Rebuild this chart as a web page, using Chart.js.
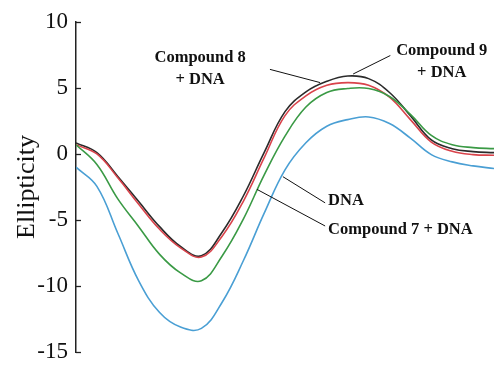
<!DOCTYPE html>
<html>
<head>
<meta charset="utf-8">
<script src="https://cdn.jsdelivr.net/npm/chart.js@4"></script>
<style>
  html, body { margin: 0; padding: 0; background: #fff; }
  #wrap { width: 494px; height: 374px; position: relative; }
</style>
</head>
<body>
<div id="wrap"><canvas id="cdChart"></canvas></div>
<script>
// wavelength (nm) - x axis is not shown in the figure
const wavelengths = [220, 225, 230, 235, 240, 245, 250, 255, 260, 265, 270,
                     275, 280, 285, 290, 295, 300, 305, 310, 315, 320];

// ellipticity values
const dnaValues   = [-1.0, -2.45, -6.0, -9.6, -12.0, -13.1, -13.2, -11.2, -8.1, -4.5, -1.2,
                     0.85, 2.1, 2.6, 2.8, 2.3, 1.2, -0.05, -0.6, -0.9, -1.1];
const cpd7Values  = [0.7, -0.8, -3.4, -5.5, -7.6, -9.0, -9.6, -7.7, -4.95, -1.6, 1.35,
                     3.55, 4.65, 4.95, 4.95, 4.35, 3.0, 1.4, 0.7, 0.48, 0.4];
const cpd8Values  = [0.7, 0.0, -1.8, -3.8, -5.7, -7.1, -7.8, -6.2, -3.6, -0.3, 2.9,
                     4.4, 5.2, 5.4, 5.2, 4.3, 2.6, 0.9, 0.2, -0.05, -0.1];
const cpd9Values  = [0.84, 0.1, -1.7, -3.6, -5.5, -7.0, -7.7, -5.9, -3.2, 0.1, 3.2,
                     4.7, 5.5, 5.9, 5.7, 4.65, 2.9, 1.06, 0.4, 0.18, 0.1];

// y tick values
const yTicks = [10, 5, 0, -5, -10, -15];

// series colours
const seriesColors = {
    dna: '#4a9fd4',
    cpd7: '#3a9a45',
    cpd8: '#d9434b',
    cpd9: '#2b2b2b'
};

// labels with leader lines (positions in data units)
const callouts = [
    { lines: ['Compound 8', '+ DNA'], align: 'center', at: [249.7, 7.25], from: [266.4, 6.4], to: [278.4, 5.4] },
    { lines: ['Compound 9', '+ DNA'], align: 'center', at: [307.5, 7.8], from: [295.2, 7.45], to: [286.3, 6.05] },
    { lines: ['DNA'], align: 'left', at: [280.3, -3.55], from: [279.6, -3.7], to: [269.5, -1.72] },
    { lines: ['Compound 7 + DNA'], align: 'left', at: [280.3, -5.75], from: [279.6, -5.45], to: [263.3, -2.68] }
];

const serif = '"Liberation Serif", "Times New Roman", serif';

function toPoints(values) {
    return values.map((v, i) => ({ x: wavelengths[i], y: v }));
}

// ticks point inward from the axis line
const inwardTicks = {
    id: 'inwardTicks',
    afterDraw(chart) {
        const y = chart.scales.y;
        const ctx = chart.ctx;
        ctx.save();
        ctx.strokeStyle = '#222';
        ctx.lineWidth = 1.3;
        yTicks.forEach(t => {
            const py = Math.round(y.getPixelForValue(t)) + 0.5;
            ctx.beginPath();
            ctx.moveTo(y.right, py);
            ctx.lineTo(y.right + 5, py);
            ctx.stroke();
        });
        ctx.restore();
    }
};

// series labels
const calloutLabels = {
    id: 'calloutLabels',
    afterDatasetsDraw(chart) {
        const { x, y } = chart.scales;
        const ctx = chart.ctx;
        ctx.save();
        ctx.strokeStyle = '#111';
        ctx.lineWidth = 1;
        ctx.fillStyle = '#111';
        ctx.font = 'bold 16.5px ' + serif;
        ctx.textBaseline = 'middle';
        callouts.forEach(c => {
            ctx.beginPath();
            ctx.moveTo(x.getPixelForValue(c.from[0]), y.getPixelForValue(c.from[1]));
            ctx.lineTo(x.getPixelForValue(c.to[0]), y.getPixelForValue(c.to[1]));
            ctx.stroke();
            ctx.textAlign = c.align;
            const px = x.getPixelForValue(c.at[0]);
            const py = y.getPixelForValue(c.at[1]);
            c.lines.forEach((line, i) => ctx.fillText(line, px, py + i * 21.5));
        });
        ctx.restore();
    }
};

const lineStyle = { borderWidth: 1.6, pointRadius: 0, tension: 0.4, fill: false };

new Chart(document.getElementById('cdChart'), {
    type: 'line',
    data: {
        datasets: [
            { label: 'DNA', data: toPoints(dnaValues), borderColor: seriesColors.dna, ...lineStyle },
            { label: 'Compound 7 + DNA', data: toPoints(cpd7Values), borderColor: seriesColors.cpd7, ...lineStyle },
            { label: 'Compound 8 + DNA', data: toPoints(cpd8Values), borderColor: seriesColors.cpd8, ...lineStyle },
            { label: 'Compound 9 + DNA', data: toPoints(cpd9Values), borderColor: seriesColors.cpd9, ...lineStyle }
        ]
    },
    options: {
        responsive: true,
        maintainAspectRatio: false,
        animation: false,
        layout: { padding: { left: 8, top: 20, right: 0, bottom: 13 } },
        plugins: {
            legend: { display: false },
            tooltip: { enabled: false }
        },
        scales: {
            x: {
                type: 'linear',
                min: 220,
                max: 320,
                display: false
            },
            y: {
                min: -15,
                max: 10,
                afterFit(scale) { scale.width = 68; },
                afterBuildTicks(scale) { scale.ticks = yTicks.map(v => ({ value: v })); },
                grid: { display: false, drawTicks: false },
                border: { display: true, color: '#222', width: 1.5 },
                ticks: {
                    padding: 8,
                    color: '#111',
                    font: { family: serif, size: 23 }
                },
                title: {
                    display: true,
                    text: 'Ellipticity',
                    color: '#111',
                    font: { family: serif, size: 26 }
                }
            }
        }
    },
    plugins: [inwardTicks, calloutLabels]
});
</script>
</body>
</html>
